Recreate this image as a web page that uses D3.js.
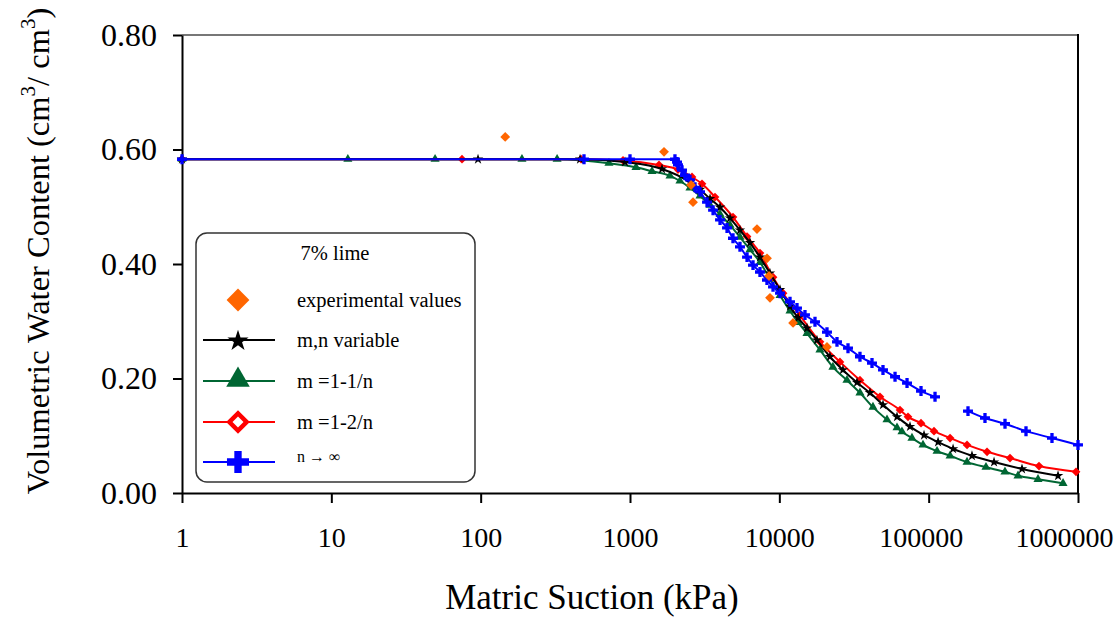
<!DOCTYPE html>
<html lang="en">

<head>
    <meta charset="UTF-8">
    <title>Soil Water Characteristic Curve - 7% lime</title>
    <script src="https://d3js.org/d3.v7.min.js"></script>
    <style>
        body {
            margin: 0;
            background: white;
        }

        text {
            font-family: "Liberation Serif", "Times New Roman", serif;
            fill: black;
        }

        .axis path,
        .axis line {
            stroke: black;
            stroke-width: 2;
        }
    </style>
</head>

<body>
    <svg width="1118" height="618" id="chart"></svg>

    <script>
        // experimental points
        const expSuction = [146, 1690, 2563, 2643, 7085, 8270, 8530, 8660, 12360, 20850];
        const expTheta = [0.622, 0.596, 0.538, 0.508, 0.461, 0.410, 0.379, 0.341, 0.297, 0.255];

        // m,n variable
        const mnSuction = [1, 96, 463, 926, 1638, 2522, 2944, 3435, 4008, 4674, 5451, 6363, 7421, 8655, 10110, 11790, 13350,
            15320, 17870, 21820, 26660, 33110, 40440, 49450, 61380, 75000, 93100, 115600, 145700, 195000, 274000, 421700, 735000];
        const mnTheta = [0.583, 0.583, 0.583, 0.578, 0.566, 0.543, 0.530, 0.514, 0.499, 0.480, 0.459, 0.437, 0.412, 0.384, 0.355,
            0.326, 0.306, 0.288, 0.267, 0.238, 0.215, 0.193, 0.175, 0.154, 0.133, 0.116, 0.101, 0.089, 0.077, 0.065, 0.054, 0.042, 0.030];

        // m = 1-1/n
        const m1Suction = [1, 12.9, 49.5, 189, 325, 723, 1097, 1404, 1853, 2161, 2522, 2944, 3435, 4008, 4674, 5451, 6363, 7421,
            8655, 10110, 11790, 13350, 15320, 18710, 22850, 28370, 34670, 42370, 52600, 61380, 66250, 77300, 91620, 113800,
            139100, 180700, 242000, 324300, 396500, 539700, 794000];
        const m1Theta = [0.583, 0.583, 0.583, 0.583, 0.583, 0.576, 0.569, 0.562, 0.554, 0.545, 0.533, 0.519, 0.503, 0.487, 0.468,
            0.447, 0.425, 0.403, 0.374, 0.345, 0.318, 0.298, 0.279, 0.250, 0.220, 0.197, 0.175, 0.150, 0.128, 0.114, 0.107, 0.096,
            0.084, 0.073, 0.065, 0.054, 0.045, 0.037, 0.030, 0.024, 0.017];

        // m = 1-2/n
        const m2Suction = [1, 75, 470, 898, 1564, 2096, 2602, 3035, 3709, 4894, 6078, 7421, 9074, 10590, 13750, 18710, 25460,
            34670, 47200, 64270, 72710, 88860, 108600, 139100, 180700, 246000, 350500, 548000, 970000];
        const m2Theta = [0.583, 0.583, 0.583, 0.581, 0.573, 0.565, 0.552, 0.540, 0.517, 0.482, 0.448, 0.419, 0.377, 0.349, 0.310,
            0.264, 0.229, 0.197, 0.168, 0.145, 0.133, 0.122, 0.108, 0.096, 0.084, 0.072, 0.061, 0.047, 0.037];

        // n -> infinity (null = break in the line)
        const nInfSuction = [1, 492, 1000, 2000, 2065, 2096, 2230, 2335, 2522, 2725, 2944, 3280, 3600, 4008, 4465, 4894, 5451,
            6078, 6665, 7421, 8265, 9074, 10110, 11790, 13130, 14850, 17330, 20850, 24330, 28830, 34670, 41740, 49450, 59540,
            71640, 88860, 110300, 140000, 183400, 238300, 324500, 448500, 669500, 1000000];
        const nInfTheta = [0.583, 0.583, 0.583, 0.583, 0.578, 0.573, 0.564, 0.555, 0.547, 0.534, 0.526, 0.508, 0.494, 0.477, 0.463,
            0.445, 0.430, 0.412, 0.398, 0.386, 0.372, 0.360, 0.349, 0.334, 0.323, 0.311, 0.299, 0.281, 0.264, 0.253, 0.238, 0.227,
            0.215, 0.203, 0.192, 0.178, 0.168, null, 0.143, 0.131, 0.121, 0.108, 0.096, 0.084];

        const xTicks = [1, 10, 100, 1000, 10000, 100000, 1000000];
        const yTicks = [0, 0.2, 0.4, 0.6, 0.8];
        const legendTitle = "7% lime";
        const legendLabels = ["experimental values", "m,n variable", "m =1-1/n", "m =1-2/n", "n \u2192 \u221e"];

        const svg = d3.select("#chart");
        const plotLeft = 182, plotRight = 1078, plotTop = 35, plotBottom = 493;

        const x = d3.scaleLog().domain([1, 1e6]).range([plotLeft, plotRight]);
        const y = d3.scaleLinear().domain([0, 0.8]).range([plotBottom, plotTop]);

        svg.append("rect").attr("width", 1118).attr("height", 618).attr("fill", "white");

        // frame (top grey, right black)
        svg.append("line").attr("x1", plotLeft).attr("x2", plotRight).attr("y1", plotTop).attr("y2", plotTop)
            .attr("stroke", "#777").attr("stroke-width", 2);
        svg.append("line").attr("x1", plotRight).attr("x2", plotRight).attr("y1", plotTop - 1).attr("y2", plotBottom)
            .attr("stroke", "black").attr("stroke-width", 2);

        const xAxis = svg.append("g").attr("class", "axis")
            .attr("transform", `translate(0,${plotBottom})`)
            .call(d3.axisBottom(x).tickValues(xTicks).tickFormat(d3.format("d")).tickSize(10).tickSizeOuter(0).tickPadding(24));
        xAxis.selectAll("text").attr("font-size", 28)
            .attr("dx", d => d === 100000 ? -8 : d === 1000000 ? -14 : 0);

        const yAxis = svg.append("g").attr("class", "axis")
            .attr("transform", `translate(${plotLeft},0)`)
            .call(d3.axisLeft(y).tickValues(yTicks).tickFormat(d3.format(".2f")).tickSize(9).tickSizeOuter(0).tickPadding(16));
        yAxis.selectAll("text").attr("font-size", 32);

        svg.append("text")
            .attr("x", 592).attr("y", 609)
            .attr("text-anchor", "middle")
            .attr("font-size", 35)
            .text("Matric Suction (kPa)");

        const yTitle = svg.append("text")
            .attr("transform", "translate(49,251) rotate(-90)")
            .attr("text-anchor", "middle")
            .attr("font-size", 32.5);
        yTitle.append("tspan").text("Volumetric Water Content (cm");
        yTitle.append("tspan").attr("font-size", 21).attr("dy", -14).text("3");
        yTitle.append("tspan").attr("dy", 14).text("/ cm");
        yTitle.append("tspan").attr("font-size", 21).attr("dy", -14).text("3");
        yTitle.append("tspan").attr("dy", 14).text(")");

        function toPoints(xs, ys) {
            return xs.map((d, i) => ({ s: d, t: ys[i] }));
        }

        const line = d3.line()
            .defined(d => d.t !== null)
            .x(d => x(d.s))
            .y(d => y(d.t))
            .curve(d3.curveMonotoneX);

        const diamond = d3.symbol().type(d3.symbolSquare);

        const series = [
            { pts: toPoints(m1Suction, m1Theta), color: "#006633", sym: d3.symbol().type(d3.symbolTriangle).size(36)(), rot: 0 },
            { pts: toPoints(m2Suction, m2Theta), color: "#ff0000", sym: diamond.size(38)(), rot: 45 },
            { pts: toPoints(mnSuction, mnTheta), color: "#000000", sym: d3.symbol().type(d3.symbolStar).size(34)(), rot: 0 },
            { pts: toPoints(nInfSuction, nInfTheta), color: "#0000ff", sym: d3.symbol().type(d3.symbolCross).size(55)(), rot: 0 }
        ];

        series.forEach(s => {
            svg.append("path")
                .datum(s.pts)
                .attr("d", line)
                .attr("fill", "none")
                .attr("stroke", s.color)
                .attr("stroke-width", 2);

            svg.append("g").selectAll("path")
                .data(s.pts.filter(d => d.t !== null))
                .enter().append("path")
                .attr("d", s.sym)
                .attr("transform", d => `translate(${x(d.s)},${y(d.t)}) rotate(${s.rot})`)
                .attr("fill", s.color);
        });

        // experimental values on top
        svg.append("g").selectAll("path")
            .data(toPoints(expSuction, expTheta))
            .enter().append("path")
            .attr("d", diamond.size(48)())
            .attr("transform", d => `translate(${x(d.s)},${y(d.t)}) rotate(45)`)
            .attr("fill", "#ff6600");

        // legend box
        const legend = svg.append("g");
        legend.append("rect")
            .attr("x", 196).attr("y", 233)
            .attr("width", 279).attr("height", 249)
            .attr("rx", 11)
            .attr("fill", "white")
            .attr("stroke", "#333")
            .attr("stroke-width", 1.5);

        legend.append("text")
            .attr("x", 335).attr("y", 260)
            .attr("text-anchor", "middle")
            .attr("font-size", 20.5)
            .text(legendTitle);

        const rowsY = [300, 340, 381, 422, 462];
        const mx = 238;

        // line segments for the fitted models
        const lineColors = [null, "#000000", "#006633", "#ff0000", "#0000ff"];
        lineColors.forEach((c, i) => {
            if (!c) return;
            legend.append("line")
                .attr("x1", 203).attr("x2", 275)
                .attr("y1", rowsY[i]).attr("y2", rowsY[i])
                .attr("stroke", c).attr("stroke-width", 2);
        });

        legend.append("path").attr("d", diamond.size(260)())
            .attr("transform", `translate(${mx},${rowsY[0]}) rotate(45)`).attr("fill", "#ff6600");
        legend.append("path").attr("d", d3.symbol().type(d3.symbolStar).size(140)())
            .attr("transform", `translate(${mx},${rowsY[1] + 1})`).attr("fill", "black");
        legend.append("path").attr("d", d3.symbol().type(d3.symbolTriangle).size(240)())
            .attr("transform", `translate(${mx},${rowsY[2] - 1})`).attr("fill", "#006633");
        legend.append("path").attr("d", diamond.size(150)())
            .attr("transform", `translate(${mx},${rowsY[3]}) rotate(45)`)
            .attr("fill", "white").attr("stroke", "#ff0000").attr("stroke-width", 4.5);
        legend.append("path").attr("d", d3.symbol().type(d3.symbolCross).size(270)())
            .attr("transform", `translate(${mx},${rowsY[4]})`).attr("fill", "#0000ff");

        legend.selectAll("text.item")
            .data(legendLabels)
            .enter().append("text")
            .attr("class", "item")
            .attr("x", 297)
            .attr("y", (d, i) => i === 4 ? rowsY[i] : rowsY[i] + 7)
            .attr("font-size", (d, i) => i === 4 ? 16 : 20.5)
            .text(d => d);
    </script>
</body>

</html>
